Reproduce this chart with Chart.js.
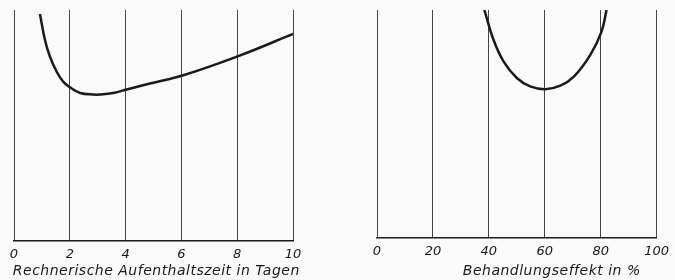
<!DOCTYPE html>
<html>
<head>
<meta charset="utf-8">
<script src="https://cdn.jsdelivr.net/npm/chart.js@4"></script>
<style>
  body { margin: 0; background: #fafafa; }
  #wrap { position: relative; width: 675px; height: 280px; }
  .box { position: absolute; top: 0; height: 280px; }
</style>
</head>
<body>
<div id="wrap">
  <div class="box" style="left:0; width:320px;"><canvas id="left"></canvas></div>
  <div class="box" style="left:350px; width:325px;"><canvas id="right"></canvas></div>
</div>
<script>
// ===== Data =====
const leftX = [0.93, 1.11, 1.29, 1.53, 1.77, 2.01, 2.37, 2.84, 3.08, 3.56, 4.04, 4.87, 6.07, 8.04, 10.0];
const leftY = [98.3, 87.0, 79.7, 73.2, 68.8, 66.4, 64.0, 63.3, 63.3, 64.0, 65.5, 68.1, 71.7, 80.0, 89.6];
const leftTicks = [0, 2, 4, 6, 8, 10];
const leftTitle = "Rechnerische Aufenthaltszeit in Tagen";

const rightX = [38.4, 41.7, 45.3, 50.1, 54.8, 60.2, 65.6, 70.4, 76.3, 80.3, 82.1];
const rightY = [100, 86.8, 77.3, 70.0, 66.4, 65.2, 66.7, 70.7, 80.3, 90.5, 100];
const rightTicks = [0, 20, 40, 60, 80, 100];
const rightTitle = "Behandlungseffekt in %";

const ink = "#1a1a1a";
const font = "'DejaVu Sans', sans-serif";

// draws the axis title centred on a given x value
const axisTitle = {
    id: "axisTitle",
    afterDraw(chart, args, opts) {
        const ctx = chart.ctx;
        const x = chart.scales.x.getPixelForValue(opts.at);
        ctx.save();
        ctx.font = "italic 14px " + font;
        ctx.letterSpacing = "0.5px";
        ctx.fillStyle = ink;
        ctx.textAlign = "center";
        ctx.textBaseline = "middle";
        ctx.fillText(opts.text, x, opts.y);
        ctx.restore();
    }
};

function makeChart(id, xs, ys, ticks, title, titleAt, pad) {
    const points = xs.map((x, i) => ({ x: x, y: ys[i] }));
    return new Chart(document.getElementById(id), {
        type: "line",
        data: {
            datasets: [{
                data: points,
                borderColor: ink,
                borderWidth: 2.5,
                pointRadius: 0,
                tension: 0.4,
                fill: false
            }]
        },
        options: {
            responsive: true,
            maintainAspectRatio: false,
            animation: false,
            layout: { padding: pad },
            plugins: {
                legend: { display: false },
                tooltip: { enabled: false },
                axisTitle: { text: title, at: titleAt, y: 271 }
            },
            scales: {
                x: {
                    type: "linear",
                    min: ticks[0],
                    max: ticks[ticks.length - 1],
                    afterBuildTicks: axis => { axis.ticks = ticks.map(v => ({ value: v })); },
                    grid: { color: "#444", lineWidth: 1, drawTicks: false },
                    border: { color: ink, width: 1.5 },
                    ticks: {
                        color: ink,
                        padding: 6,
                        font: { family: font, size: 13, style: "italic" }
                    }
                },
                y: {
                    display: false,
                    min: 0,
                    max: 100
                }
            }
        },
        plugins: [axisTitle]
    });
}

makeChart("left", leftX, leftY, leftTicks, leftTitle, 5.1, { left: 14, right: 27, top: 10, bottom: 12 });
makeChart("right", rightX, rightY, rightTicks, rightTitle, 62.5, { left: 27, right: 9, top: 10, bottom: 15 });
</script>
</body>
</html>
